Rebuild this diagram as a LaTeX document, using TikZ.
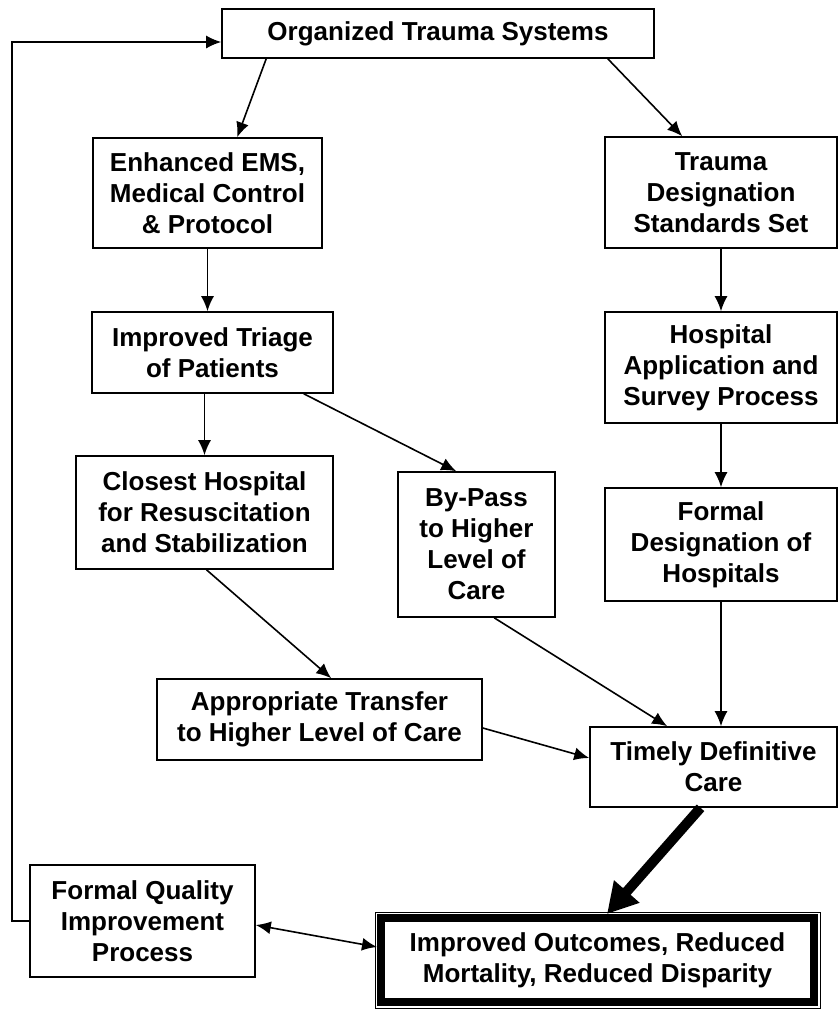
\documentclass[tikz,border=0pt]{standalone}
\usepackage{fontspec}
\setmainfont{Liberation Sans}
\usetikzlibrary{arrows.meta}

\begin{document}
\begin{tikzpicture}[x=1pt, y=-1pt,
  box/.style={draw, line width=1.6pt, rectangle, align=center, inner sep=0pt,
    font=\fontsize{26}{31}\selectfont\bfseries},
  arr/.style={line width=1.6pt, -{Latex[length=15pt,width=13pt]}},
  bigarr/.style={line width=10pt, -{Triangle[length=30pt,width=32pt]}}]
\useasboundingbox (0,0) rectangle (838,1009);
\node[box, minimum width=432pt, minimum height=49pt] (org) at (438,33.5) {Organized Trauma Systems};
\node[box, minimum width=229pt, minimum height=110pt] (ems) at (207.5,193) {Enhanced EMS,\\Medical Control\\\& Protocol};
\node[box, minimum width=232pt, minimum height=111pt] (tds) at (721,192.5) {Trauma\\Designation\\Standards Set};
\node[box, minimum width=241pt, minimum height=81pt] (triage) at (212.5,352.5) {Improved Triage\\of Patients};
\node[box, minimum width=232pt, minimum height=111pt] (hosp) at (721,367.5) {Hospital\\Application and\\Survey Process};
\node[box, minimum width=257pt, minimum height=113pt] (closest) at (204.5,512.5) {Closest Hospital\\for Resuscitation\\and Stabilization};
\node[box, minimum width=157pt, minimum height=145pt] (bypass) at (476.5,544.5) {By-Pass\\to Higher\\Level of\\Care};
\node[box, minimum width=232pt, minimum height=113pt] (formal) at (721,544.5) {Formal\\Designation of\\Hospitals};
\node[box, minimum width=325pt, minimum height=81pt] (transfer) at (319.5,719.5) {Appropriate Transfer\\to Higher Level of Care};
\node[box, minimum width=247pt, minimum height=80pt] (timely) at (713.5,767) {Timely Definitive\\Care};
\node[box, minimum width=225pt, minimum height=112pt] (fqi) at (142.5,921) {Formal Quality\\Improvement\\Process};
\node[box, line width=8pt, minimum width=433pt, minimum height=84pt] (outcome) at (597.5,960) {Improved Outcomes, Reduced\\Mortality, Reduced Disparity};
\draw[line width=1pt] ([shift={(-2pt,2pt)}]outcome.north west) rectangle ([shift={(2pt,-2pt)}]outcome.south east);
\coordinate (loop) at (12,42);

\draw[arr] ([xshift=45pt]org.south west) -- ([xshift=145pt]ems.north west);
\draw[arr] ([xshift=-47pt]org.south east) -- ([xshift=78pt]tds.north west);
\draw[arr] (ems.south) -- (ems.south |- triage.north);
\draw[arr] (triage.south -| closest.north) -- (closest.north);
\draw[arr] ([xshift=-30pt]triage.south east) -- ([xshift=59pt]bypass.north west);
\draw[arr] (tds.south) -- (hosp.north);
\draw[arr] (hosp.south) -- (formal.north);
\draw[arr] ([xshift=2pt]closest.south) -- ([xshift=175pt]transfer.north west);
\draw[arr] ([xshift=97pt]bypass.south west) -- ([xshift=78pt]timely.north west);
\draw[arr] (formal.south) -- (formal.south |- timely.north);
\draw[arr] ([yshift=-8.5pt]transfer.east) -- ([yshift=9pt]timely.west);
\draw[bigarr] ([xshift=-13pt]timely.south) -- ([xshift=9.5pt]outcome.north);
\draw[arr, {Latex[length=15pt,width=13pt]}-{Latex[length=15pt,width=13pt]}] ([yshift=-4pt]fqi.east) -- ([yshift=13pt]outcome.west);
\draw[arr] (fqi.west) -| (loop) -- ([yshift=-8.5pt]org.west);
\end{tikzpicture}
\end{document}
